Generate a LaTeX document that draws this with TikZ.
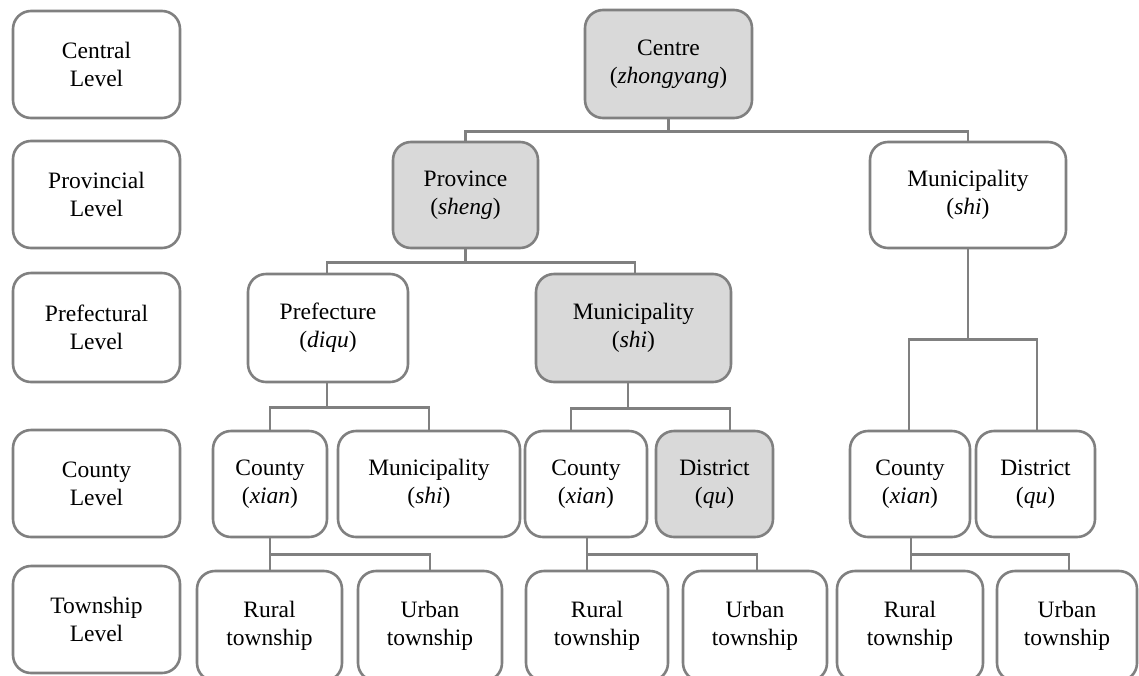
\documentclass[tikz,border=0pt]{standalone}
\usepackage{fontspec}
\setmainfont{Liberation Serif}
\begin{document}
\begin{tikzpicture}[x=1pt,y=-1pt,
  every node/.style={font=\fontsize{23.5}{28}\selectfont, align=center, inner sep=0pt},
  unit/.style={draw=lineGray, line width=2.6pt, rounded corners=18pt, fill=white},
  shaded/.style={unit, fill=boxGray},
  link/.style={draw=lineGray, line width=2.6pt}]
\definecolor{lineGray}{HTML}{808080}
\definecolor{boxGray}{HTML}{D9D9D9}
\useasboundingbox (0,0) rectangle (1139,675);
\clip (0,0) rectangle (1139,675);

% level labels down the left side
\node[unit, minimum width=167pt, minimum height=107pt] (lvlA) at (96.5,64.5) {Central\\Level};
\node[unit, minimum width=167pt, minimum height=107pt] (lvlB) at (96.5,194.5) {Provincial\\Level};
\node[unit, minimum width=167pt, minimum height=109pt] (lvlC) at (96.5,327.5) {Prefectural\\Level};
\node[unit, minimum width=167pt, minimum height=107pt] (lvlD) at (96.5,483.5) {County\\Level};
\node[unit, minimum width=167pt, minimum height=107pt] (lvlE) at (96.5,619.5) {Township\\Level};

% central and provincial units
\node[shaded, minimum width=167pt, minimum height=108pt] (centre) at (668.5,64) {Centre\\(\textit{zhongyang})};
\node[shaded, minimum width=145pt, minimum height=106pt] (prov) at (465.5,195) {Province\\(\textit{sheng})};
\node[unit, minimum width=196pt, minimum height=106pt] (munR) at (968,195) {Municipality\\(\textit{shi})};

% prefectural units
\node[unit, minimum width=160pt, minimum height=108pt] (pref) at (328,328) {Prefecture\\(\textit{diqu})};
\node[shaded, minimum width=195pt, minimum height=108pt] (munM) at (633.5,328) {Municipality\\(\textit{shi})};

% county-level units
\node[unit, minimum width=114pt, minimum height=106pt] (cntA) at (270,484) {County\\(\textit{xian})};
\node[unit, minimum width=182pt, minimum height=106pt] (munC) at (429,484) {Municipality\\(\textit{shi})};
\node[unit, minimum width=122pt, minimum height=106pt] (cntB) at (586,484) {County\\(\textit{xian})};
\node[shaded, minimum width=117pt, minimum height=106pt] (dstB) at (714.5,484) {District\\(\textit{qu})};
\node[unit, minimum width=120pt, minimum height=106pt] (cntC) at (910,484) {County\\(\textit{xian})};
\node[unit, minimum width=119pt, minimum height=106pt] (dstC) at (1035.5,484) {District\\(\textit{qu})};

% townships
\node[unit, minimum width=145pt, minimum height=110pt] (rurA) at (269.5,626) {Rural\\township};
\node[unit, minimum width=144pt, minimum height=110pt] (urbA) at (430,626) {Urban\\township};
\node[unit, minimum width=142pt, minimum height=110pt] (rurB) at (597,626) {Rural\\township};
\node[unit, minimum width=144pt, minimum height=110pt] (urbB) at (755,626) {Urban\\township};
\node[unit, minimum width=146pt, minimum height=110pt] (rurC) at (910,626) {Rural\\township};
\node[unit, minimum width=140pt, minimum height=110pt] (urbC) at (1067,626) {Urban\\township};

% tree connectors
\draw[link] (centre.south) -- ++(0,12) coordinate (jA);
\draw[link] (prov.north) |- (jA) -| (munR.north);

\draw[link] (prov.south) -- ++(0,13) coordinate (jB);
\draw[link] ([xshift=-1pt]pref.north) |- (jB) -| ([xshift=1.5pt]munM.north);

\draw[link] (munR.south) -- ++(0,90) coordinate (jC);
\draw[link] ([xshift=-1pt]cntC.north) |- (jC) -| ([xshift=1.5pt]dstC.north);

\draw[link] ([xshift=-1pt]pref.south) -- ++(0,24) coordinate (jD);
\draw[link] (cntA.north) |- (jD) -| (munC.north);

\draw[link] ([xshift=-5.5pt]munM.south) -- ++(0,25) coordinate (jE);
\draw[link] ([xshift=-15pt]cntB.north) |- (jE) -| ([xshift=15.5pt]dstB.north);

\draw[link] (cntA.south) -- ++(0,16) coordinate (jF);
\draw[link] ([xshift=0.5pt]rurA.north) |- (jF) -| (urbA.north);

\draw[link] ([xshift=1pt]cntB.south) -- ++(0,16) coordinate (jG);
\draw[link] ([xshift=-10pt]rurB.north) |- (jG) -| ([xshift=2pt]urbB.north);

\draw[link] ([xshift=1pt]cntC.south) -- ++(0,16) coordinate (jH);
\draw[link] ([xshift=1pt]rurC.north) |- (jH) -| ([xshift=2pt]urbC.north);
\end{tikzpicture}
\end{document}
